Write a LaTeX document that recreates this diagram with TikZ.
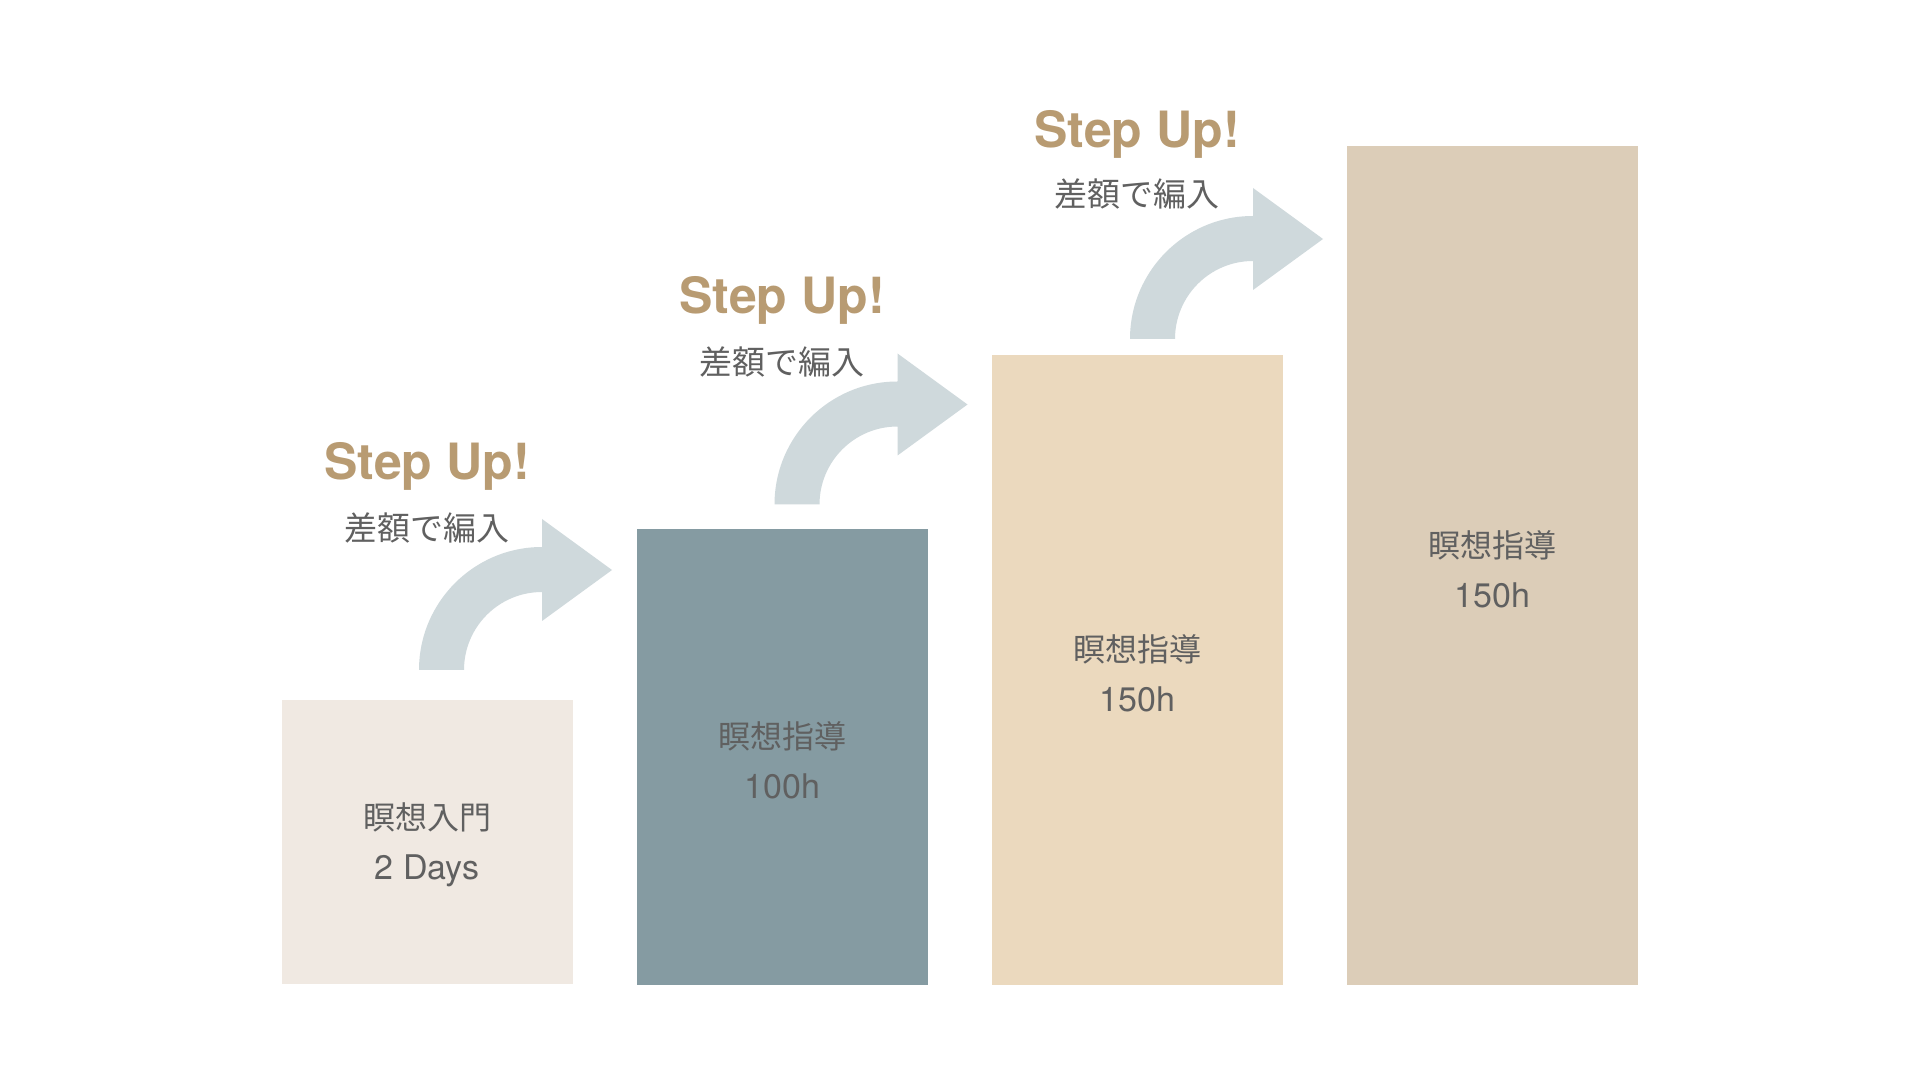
\documentclass[tikz,border=0pt]{standalone}
\usepackage{fontspec}
\setmainfont{TeX Gyre Heros}
\newfontfamily\jpfont{Noto Sans CJK JP}
\definecolor{barA}{HTML}{F0E9E2}
\definecolor{barB}{HTML}{859BA2}
\definecolor{barC}{HTML}{EBD9BE}
\definecolor{barD}{HTML}{DCCDB8}
\definecolor{arrowc}{HTML}{CFD9DC}
\definecolor{stepc}{HTML}{B89B72}
\definecolor{txtc}{HTML}{606060}
\tikzset{
  barbox/.style={draw=none,minimum width=291pt,anchor=south west,inner sep=0pt,rectangle},
  bartext/.style={text=txtc,align=center,font=\fontsize{34}{50}\selectfont},
  steptext/.style={text=stepc,anchor=base,font=\bfseries\fontsize{50}{60}\selectfont},
  subtext/.style={text=txtc,font=\jpfont\fontsize{33}{40}\selectfont},
}
\newcommand{\myarrow}[1]{%
  \begin{scope}[shift={#1}]
    \fill[arrowc] (419,410) arc[start angle=180,end angle=90,radius=123pt]
      -- (542,561) -- (612,510) -- (542,459) -- (542,488)
      arc[start angle=90,end angle=180,radius=78pt] -- cycle;
  \end{scope}}
\begin{document}
\begin{tikzpicture}[x=1pt,y=1pt]
\useasboundingbox[fill=white] (0,0) rectangle (1919,1080);
% bars
\node[barbox,fill=barA,minimum height=284pt] (b1) at (281.5,96) {};
\node[barbox,fill=barB,minimum height=456pt] (b2) at (636.5,94.5) {};
\node[barbox,fill=barC,minimum height=630pt] (b3) at (991.5,94.5) {};
\node[barbox,fill=barD,minimum height=839pt] (b4) at (1346.5,94.5) {};
\node[bartext] (t1) at ([yshift=-3pt]b1.center) {{\jpfont\fontsize{32}{50}\selectfont 瞑想入門}\\2 Days};
\node[bartext] (t2) at ([yshift=-3pt]b2.center) {{\jpfont\fontsize{32}{50}\selectfont 瞑想指導}\\100h};
\node[bartext] (t3) at ([yshift=-3pt]b3.center) {{\jpfont\fontsize{32}{50}\selectfont 瞑想指導}\\150h};
\node[bartext] (t4) at ([yshift=-3pt]b4.center) {{\jpfont\fontsize{32}{50}\selectfont 瞑想指導}\\150h};
% arrows
\myarrow{(0,0)}
\myarrow{(355.5,165.5)}
\myarrow{(711,331)}
% labels
\node[steptext] (s1) at (427,600) {Step Up!};
\node[subtext] (u1) at (427,552) {差額で編入};
\node[steptext] (s2) at (782,766) {Step Up!};
\node[subtext] (u2) at (782,718) {差額で編入};
\node[steptext] (s3) at (1137,932) {Step Up!};
\node[subtext] (u3) at (1137,886) {差額で編入};
\end{tikzpicture}
\end{document}
